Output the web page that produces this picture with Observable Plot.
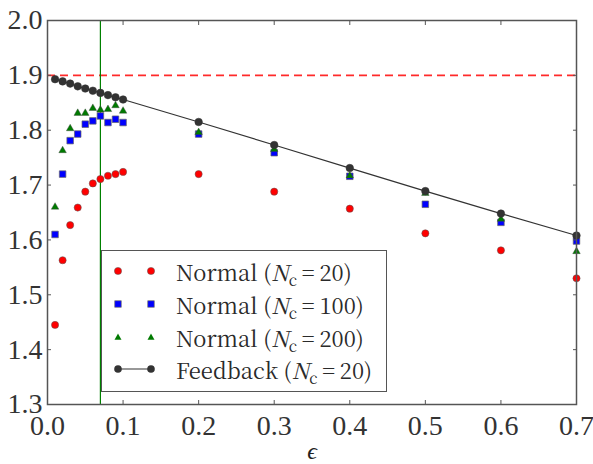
<!DOCTYPE html>
<html>
<head>
<meta charset="utf-8">
<script src="https://cdn.jsdelivr.net/npm/d3@7"></script>
<script src="https://cdn.jsdelivr.net/npm/@observablehq/plot@0.6"></script>
<style>
  html, body { margin: 0; padding: 0; background: #fff; }
  #wrap { position: relative; width: 593px; height: 464px; }
  #legend {
    position: absolute; left: 101px; top: 250px; width: 284px; height: 140px;
    border: 1.5px solid #555; background: #fff; box-sizing: content-box;
    font-size: 22px; color: #2a2a2a;
  }
  #legend span { font-family: "Noto Serif CJK SC", "Liberation Serif", serif; }
  .row { position: absolute; left: 0; height: 30px; display: flex; align-items: center; }
  .row svg { display: block; }
  .row span.t { margin-left: 16px; white-space: nowrap; }
  .eq { padding: 0 0.22em; }
  sub { font-size: 0.7em; vertical-align: -0.3em; line-height: 0; font-style: normal; }
</style>
</head>
<body>
<div id="wrap"></div>
<script>
const eps = [0.01, 0.02, 0.03, 0.04, 0.05, 0.06, 0.07, 0.08, 0.09, 0.10, 0.2, 0.3, 0.4, 0.5, 0.6, 0.7];
const normal20  = [1.445, 1.563, 1.627, 1.659, 1.688, 1.703, 1.711, 1.717, 1.720, 1.724, 1.720, 1.688, 1.657, 1.612, 1.581, 1.530];
const normal100 = [1.610, 1.720, 1.781, 1.793, 1.811, 1.817, 1.826, 1.814, 1.820, 1.814, 1.793, 1.759, 1.716, 1.665, 1.632, 1.598];
const normal200 = [1.660, 1.763, 1.803, 1.831, 1.831, 1.840, 1.837, 1.838, 1.845, 1.835, 1.796, 1.765, 1.717, 1.685, 1.638, 1.579];
const feedback  = [1.893, 1.889, 1.885, 1.880, 1.876, 1.872, 1.868, 1.864, 1.860, 1.856, 1.815, 1.773, 1.731, 1.689, 1.648, 1.608];
const refLine = 1.9;
const vLine = 0.07;
const xTicks = [0, 0.1, 0.2, 0.3, 0.4, 0.5, 0.6, 0.7];
const yTicks = [1.3, 1.4, 1.5, 1.6, 1.7, 1.8, 1.9, 2.0];
const seriesNames = ["Normal", "Normal", "Normal", "Feedback"];
const seriesN = [20, 100, 200, 20];

const tbl = (ys) => eps.map((x, i) => ({x, y: ys[i]}));
const fmt = d => d.toFixed(1);
const font = "Liberation Serif";
const axisGray = "#555";

const chart = Plot.plot({
  width: 593, height: 464,
  marginLeft: 47, marginRight: 17, marginTop: 20, marginBottom: 60,
  style: {fontFamily: font, background: "white", color: "#2a2a2a"},
  x: {domain: [0, 0.7]},
  y: {domain: [1.3, 2.0]},
  marks: [
    Plot.ruleY([refLine], {stroke: "#ff2a2a", strokeWidth: 1.6, strokeDasharray: "8,5"}),
    Plot.ruleX([vLine], {stroke: "#008000", strokeWidth: 1.2}),
    Plot.dot(tbl(normal20), {x: "x", y: "y", r: 3.6, fill: "#ff0000", stroke: "#555", strokeWidth: 0.5}),
    Plot.dot(tbl(normal100), {x: "x", y: "y", symbol: "square", r: 3.7, fill: "#0000ff", stroke: "#666", strokeWidth: 0.7}),
    Plot.dot(tbl(normal200), {x: "x", y: "y", symbol: "triangle", r: 2.8, fill: "#007a00", stroke: "#444", strokeWidth: 0.4}),
    Plot.line(tbl(feedback), {x: "x", y: "y", stroke: "#333", strokeWidth: 1.2}),
    Plot.dot(tbl(feedback), {x: "x", y: "y", r: 3.8, fill: "#333", stroke: "#333", strokeWidth: 0.5}),
    // inward ticks on all four sides
    Plot.axisX(xTicks, {anchor: "bottom", tickSize: 4, dy: -4, fill: "none", label: null, stroke: axisGray}),
    Plot.axisX(xTicks, {anchor: "top", tickSize: 4, dy: 4, fill: "none", label: null, stroke: axisGray}),
    Plot.axisY(yTicks, {anchor: "left", tickSize: 4, dx: 4, fill: "none", label: null, stroke: axisGray}),
    Plot.axisY(yTicks, {anchor: "right", tickSize: 4, dx: -4, fill: "none", label: null, stroke: axisGray}),
    // tick labels
    Plot.axisX(xTicks, {anchor: "bottom", tickSize: 0, tickPadding: 11, tickFormat: fmt, fontSize: 28, label: null, fill: "#333"}),
    Plot.axisY(yTicks, {anchor: "left", tickSize: 0, tickPadding: 5, tickFormat: fmt, fontSize: 28, label: null, fill: "#333"}),
    Plot.frame({stroke: axisGray, strokeWidth: 1.5}),
    Plot.text(["ϵ"], {frameAnchor: "bottom", dy: 54, fontSize: 24, fontStyle: "italic", fill: "#222"})
  ]
});
const wrap = document.getElementById("wrap");
wrap.appendChild(chart);

// legend
const legend = document.createElement("div");
legend.id = "legend";
const markers = [
  `<circle cx="8" cy="10" r="3.6" fill="#ff0000" stroke="#555" stroke-width="0.5"/><circle cx="41" cy="10" r="3.6" fill="#ff0000" stroke="#555" stroke-width="0.5"/>`,
  `<rect x="4.8" y="6.8" width="6.4" height="6.4" fill="#0000ff" stroke="#666" stroke-width="0.7"/><rect x="37.8" y="6.8" width="6.4" height="6.4" fill="#0000ff" stroke="#666" stroke-width="0.7"/>`,
  `<path d="M8,6.5L11.5,12.8L4.5,12.8Z" fill="#007a00"/><path d="M41,6.5L44.5,12.8L37.5,12.8Z" fill="#007a00"/>`,
  `<line x1="8" y1="10" x2="41" y2="10" stroke="#333" stroke-width="1.2"/><circle cx="8" cy="10" r="3.8" fill="#333"/><circle cx="41" cy="10" r="3.8" fill="#333"/>`
];
const rowTops = [5, 38, 71, 103];
seriesNames.forEach((name, i) => {
  const row = document.createElement("div");
  row.className = "row";
  row.style.top = rowTops[i] + "px";
  row.style.left = "8px";
  row.innerHTML = `<svg width="50" height="20">${markers[i]}</svg><span class="t">${name} (<i>N</i><sub>c</sub><span class="eq">=</span>${seriesN[i]})</span>`;
  legend.appendChild(row);
});
wrap.appendChild(legend);
</script>
</body>
</html>
